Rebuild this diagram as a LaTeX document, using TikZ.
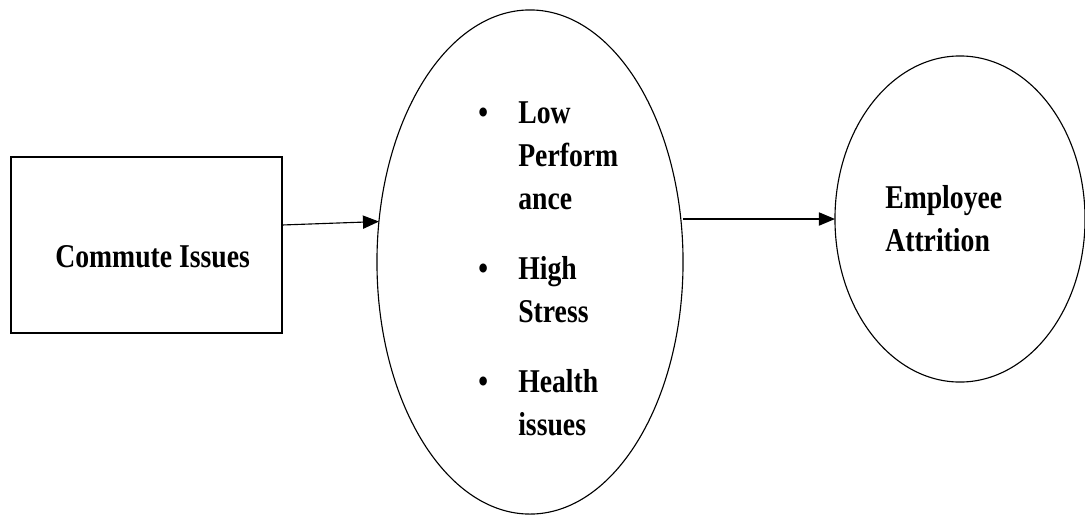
\documentclass[tikz,border=0pt]{standalone}
\usepackage{graphicx}
\usepackage{fontspec}
\setmainfont{Liberation Serif}
\usetikzlibrary{shapes.geometric,arrows.meta}
\newcommand{\tall}[1]{\scalebox{1}[1.2]{#1}}% text is a little stretched

\begin{document}
\begin{tikzpicture}[
x=0.025cm, y=-0.025cm,
    R/.style = {rectangle, draw, line width=0.8pt,% box on the left
                minimum width=6.775cm, minimum height=4.4cm,
                outer sep=0pt},
    E/.style = {ellipse, draw, line width=0.8pt,% ovals
                inner sep=0pt, outer sep=0pt},
    T/.style = {font=\bfseries\fontsize{19.7}{25.5}\selectfont,% texts
                inner sep=0pt, anchor=base west},
    A/.style = {-{Triangle[length=0.4cm, width=0.33cm]},% arrows
                line width=0.8pt},
                    ]
\useasboundingbox (0,0) rectangle (1085,515);
\node[R] (commute) at (146.5,245) {};
\node[E, minimum width=7.65cm, minimum height=12.6cm] (effects) at (530,262) {};
\node[E, minimum width=6.25cm, minimum height=8.15cm] (attrition) at (960,219) {};
% texts
\node[T] (commutetext) at (55,267) {\tall{Commute Issues}};
\node[T] (effectstext) at (478,123) {\tall{\begin{tabular}[t]{@{}p{1cm}@{}l@{}}
    \textbullet & Low\\ & Perform\\ & ance\\[0.5625cm]
    \textbullet & High\\ & Stress\\[0.5625cm]
    \textbullet & Health\\ & issues
    \end{tabular}}};
\node[T] (attritiontext) at (885,208) {\tall{\begin{tabular}[t]{@{}l@{}}
    Employee\\ Attrition
    \end{tabular}}};
% arrows
\draw[A] ([yshift=0.5cm]commute.east) -- (effects.165);
\draw[A] (effects.east |- attrition.west) -- (attrition.west);
    \end{tikzpicture}
\end{document}
